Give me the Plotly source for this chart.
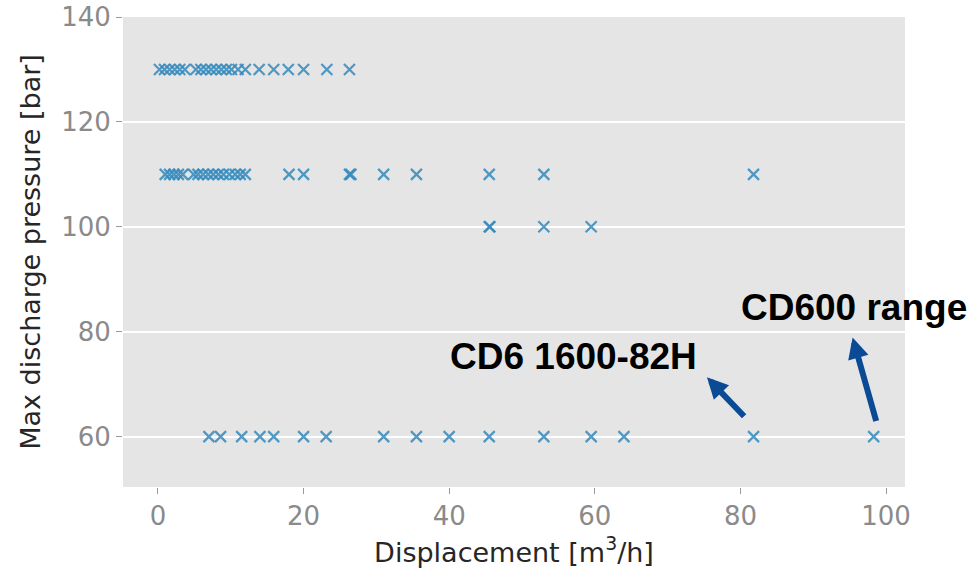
import plotly.graph_objects as go

# ---- data ----
x_130 = [0.2, 0.9, 1.6, 2.3, 3.0, 3.7, 5.2, 5.9, 6.6, 7.3, 8.0, 8.7, 9.4, 10.1,
         11.0, 12.0, 13.9, 15.9, 17.9, 20.0, 23.2, 26.3]
x_110 = [1.0, 1.6, 2.2, 2.8, 3.4, 4.9, 5.5, 6.2, 6.9, 7.6, 8.3, 9.0, 9.8, 10.6,
         11.3, 12.0, 18.0, 20.0, 26.3, 26.5, 31.0, 35.5, 45.5, 53.0, 81.8]
x_100 = [45.5, 45.6, 53.0, 59.5]
x_60 = [7.0, 8.6, 11.5, 14.0, 15.9, 20.0, 23.1, 31.0, 35.5, 40.0, 45.5, 53.0,
        59.5, 64.0, 81.8, 98.3]
pressure_levels = [130, 110, 100, 60]

x_ticks = [0, 20, 40, 60, 80, 100]
y_ticks = [60, 80, 100, 120, 140]

xs = x_130 + x_110 + x_100 + x_60
ys = ([130] * len(x_130) + [110] * len(x_110) + [100] * len(x_100) + [60] * len(x_60))

fig = go.Figure()
fig.add_trace(go.Scatter(
    x=xs, y=ys, mode="markers",
    marker=dict(symbol="x-thin", size=11, color="#348ABD", opacity=0.85,
                line=dict(width=2.2, color="#348ABD")),
    showlegend=False, hoverinfo="x+y",
))

tick_font = dict(family="DejaVu Sans", size=26, color="#8a8a8a")
title_font = dict(family="DejaVu Sans", size=27, color="#262626")

fig.update_layout(
    width=970, height=573,
    margin=dict(l=123, r=65, t=17, b=86),
    paper_bgcolor="white",
    plot_bgcolor="#E5E5E5",
    xaxis=dict(range=[-4.8, 102.6], tickvals=x_ticks, showgrid=False,
               automargin=False,
               zeroline=False, ticks="outside", ticklen=6, tickwidth=1,
               tickcolor="#9a9a9a", tickfont=tick_font,
               title=dict(text="Displacement [m<sup>3</sup>/h]", font=title_font,
                          standoff=12)),
    yaxis=dict(range=[50.4, 140], tickvals=y_ticks, showgrid=True,
               automargin=False,
               gridcolor="white", gridwidth=2, zeroline=False,
               ticks="outside", ticklen=6, tickwidth=1, tickcolor="#9a9a9a",
               tickfont=tick_font,
               title=dict(text="Max discharge pressure [bar]", font=title_font,
                          standoff=12)),
)

ann_font = dict(family="Liberation Sans, Arial", size=37, color="black")
fig.add_annotation(x=79.8, y=84.6, xref="x", yref="y", text="<b>CD600 range</b>",
                   showarrow=False, xanchor="left", yanchor="middle", font=ann_font)
fig.add_annotation(x=39.8, y=75.2, xref="x", yref="y", text="<b>CD6 1600-82H</b>",
                   showarrow=False, xanchor="left", yanchor="middle", font=ann_font)

arrow_color = "#0B4A94"
fig.add_annotation(x=75.4, y=71.3, ax=80.7, ay=63.6, xref="x", yref="y",
                   axref="x", ayref="y", text="", showarrow=True, arrowhead=2,
                   arrowsize=0.7, arrowwidth=6, arrowcolor=arrow_color)
fig.add_annotation(x=95.4, y=78.9, ax=98.7, ay=62.7, xref="x", yref="y",
                   axref="x", ayref="y", text="", showarrow=True, arrowhead=2,
                   arrowsize=0.7, arrowwidth=6, arrowcolor=arrow_color)

fig.write_html(
    "out.html",
    config={"displayModeBar": False},
    post_script="document.body.style.margin='0';document.body.style.padding='0';"
                "window.dispatchEvent(new Event('resize'));",
)
